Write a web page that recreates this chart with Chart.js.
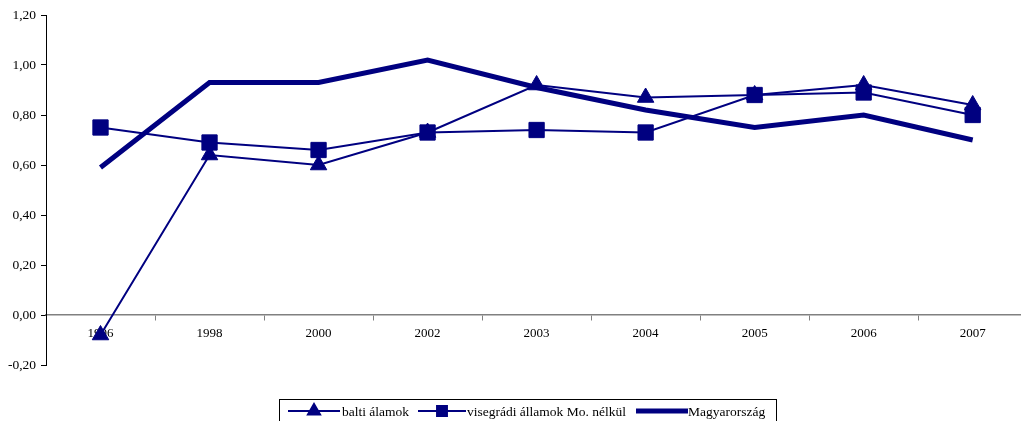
<!DOCTYPE html>
<html>
<head>
<meta charset="utf-8">
<script src="https://cdn.jsdelivr.net/npm/chart.js@4.4.1/dist/chart.umd.min.js"></script>
<style>
  html, body { margin: 0; padding: 0; background: #fff; overflow: hidden; }
  #wrap { width: 1021px; height: 421px; overflow: hidden; }
</style>
</head>
<body>
<!-- canvas is a bit wider than the page: the plot runs past the right edge in the original -->
<div id="wrap"><canvas id="myChart" width="1039" height="421"></canvas></div>
<script>
const years = ['1996', '1998', '2000', '2002', '2003', '2004', '2005', '2006', '2007'];
const balti = [-0.08, 0.64, 0.60, 0.73, 0.92, 0.87, 0.88, 0.92, 0.84];
const visegradi = [0.75, 0.69, 0.66, 0.73, 0.74, 0.73, 0.88, 0.89, 0.80];
const magyar = [0.59, 0.93, 0.93, 1.02, 0.91, 0.82, 0.75, 0.80, 0.70];

const navy = '#000080';
const fontFamily = '"Liberation Serif", "Times New Roman", serif';

// legend with a border box, drawn by hand
const legendBox = {
  id: 'legendBox',
  afterDraw(chart) {
    const c = chart.ctx;
    c.save();
    c.strokeStyle = '#000';
    c.lineWidth = 1;
    c.strokeRect(279.5, 399.5, 497, 30);
    c.font = '13.5px ' + fontFamily;
    c.fillStyle = '#000';
    c.textBaseline = 'middle';
    const y = 411;
    const items = [
      { x1: 288, x2: 340, text: 'balti álamok', tx: 342, style: 'triangle', r: 7, w: 2 },
      { x1: 418, x2: 466, text: 'visegrádi államok Mo. nélkül', tx: 467, style: 'rect', r: 7, w: 2 },
      { x1: 636, x2: 688, text: 'Magyarország', tx: 688, style: null, r: 0, w: 5 }
    ];
    items.forEach(it => {
      c.strokeStyle = navy;
      c.lineWidth = it.w;
      c.beginPath();
      c.moveTo(it.x1, y);
      c.lineTo(it.x2, y);
      c.stroke();
      if (it.style) {
        c.fillStyle = navy;
        Chart.helpers.drawPoint(c, { pointStyle: it.style, radius: it.r, borderWidth: 1 }, (it.x1 + it.x2) / 2, y);
      }
      c.fillStyle = '#000';
      c.fillText(it.text, it.tx, y + 1);
    });
    c.restore();
  }
};

const ctx = document.getElementById('myChart').getContext('2d');
const data = {
  labels: years,
  datasets: [{
    label: 'balti álamok',
    data: balti,
    borderColor: navy,
    backgroundColor: navy,
    borderWidth: 2,
    pointStyle: 'triangle',
    pointRadius: 9.5,
    pointBorderWidth: 1,
    tension: 0
  }, {
    label: 'visegrádi államok Mo. nélkül',
    data: visegradi,
    borderColor: navy,
    backgroundColor: navy,
    borderWidth: 2,
    pointStyle: 'rect',
    pointRadius: 10.8,
    pointBorderWidth: 1,
    tension: 0
  }, {
    label: 'Magyarország',
    data: magyar,
    borderColor: navy,
    backgroundColor: navy,
    borderWidth: 5,
    pointRadius: 0,
    tension: 0
  }]
};

const config = {
  type: 'line',
  data: data,
  plugins: [legendBox],
  options: {
    responsive: false,
    animation: false,
    clip: false,
    layout: {
      padding: { top: 15, right: 0, bottom: 56, left: 0 }
    },
    scales: {
      x: {
        type: 'category',
        position: { y: 0 },
        offset: true,
        grid: {
          offset: true,
          drawOnChartArea: false,
          drawTicks: true,
          tickLength: 5,
          color: '#808080'
        },
        border: { color: '#808080', width: 1.5 },
        ticks: {
          color: '#000',
          padding: 6,
          maxRotation: 0,
          font: { family: fontFamily, size: 13 }
        }
      },
      y: {
        min: -0.2,
        max: 1.2,
        afterFit: function(scale) { scale.width = 46; },
        grid: {
          drawOnChartArea: false,
          drawTicks: true,
          tickLength: 5,
          color: '#000'
        },
        border: { color: '#000', width: 1 },
        ticks: {
          stepSize: 0.2,
          color: '#000',
          padding: 5,
          font: { family: fontFamily, size: 13.5 },
          callback: function(value) {
            if (Math.abs(value) < 1e-9) value = 0;
            return value.toFixed(2).replace('.', ',');
          }
        }
      }
    },
    plugins: {
      legend: { display: false },
      tooltip: { enabled: false }
    }
  }
};

const myChart = new Chart(ctx, config);
</script>
</body>
</html>
